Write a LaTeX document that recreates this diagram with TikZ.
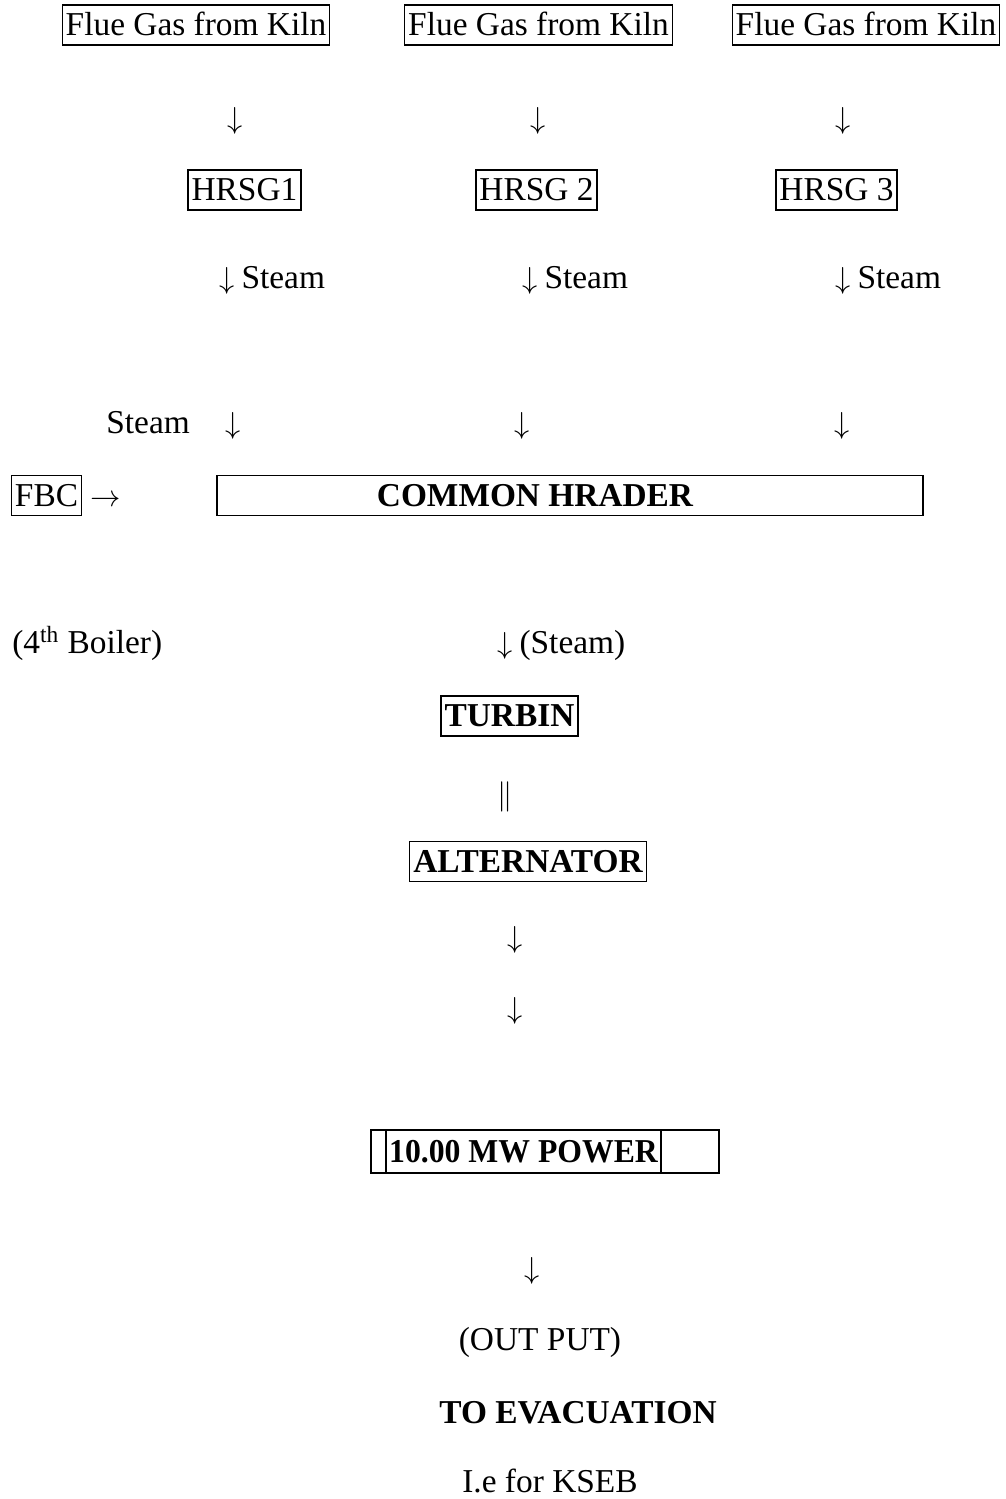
\documentclass[tikz,border=0pt]{standalone}
\usepackage{fontspec}
\setmainfont{Liberation Serif}
\usepackage{tikz}

\newcommand{\dn}{$\downarrow$}

\begin{document}
\begin{tikzpicture}[x=0.02cm,y=-0.02cm,
    every node/.style={font=\fontsize{19}{23}\selectfont,inner sep=0pt,text height=14pt,text depth=2pt},
    bx/.style={draw,line width=0.75pt,inner xsep=2pt,minimum height=0.8cm},
    bbx/.style={bx,font=\fontsize{19}{23}\selectfont\bfseries}]
    \useasboundingbox (0,0) rectangle (1005,1499);
    \node [bx] (kiln1) at (196,25) {Flue Gas from Kiln};
    \node [bx] (kiln2) at (538.5,25) {Flue Gas from Kiln};
    \node [bx] (kiln3) at (866,25) {Flue Gas from Kiln};
    \node (dn1) at (235,118) {\dn};
    \node (dn2) at (538,118) {\dn};
    \node (dn3) at (843,118) {\dn};
    \node [bx] (hrsg1) at (244.5,190) {HRSG1};
    \node [bx] (hrsg2) at (536.5,190) {HRSG 2};
    \node [bx] (hrsg3) at (836.5,190) {HRSG 3};
    \node [anchor=west] (st1) at (219,278) {\dn\hspace{4pt}Steam};
    \node [anchor=west] (st2) at (522,278) {\dn\hspace{4pt}Steam};
    \node [anchor=west] (st3) at (835,278) {\dn\hspace{4pt}Steam};
    \node [anchor=west] (stfbc) at (106,423) {Steam};
    \node (dn4) at (233,423) {\dn};
    \node (dn5) at (522,423) {\dn};
    \node (dn6) at (842,423) {\dn};
    \node [bx] (fbc) at (46.5,495.5) {FBC};
    \node (rt) at (106,495.5) {$\rightarrow$};
    \node [draw,line width=0.75pt,minimum width=706*0.02cm,minimum height=0.8cm] (hdrbox) at (570,495.5) {};
    \node [font=\fontsize{19}{23}\selectfont\bfseries] (hdr) at (535,495.5) {COMMON HRADER};
    \node [anchor=west] (boiler) at (12,643) {(4\textsuperscript{th} Boiler)};
    \node [anchor=west] (stm) at (497,643) {\dn\hspace{4pt}(Steam)};
    \node [bbx] (turbin) at (509.5,716) {TURBIN};
    \node [font=\fontsize{16}{20}\selectfont] (shaft) at (505,794) {$\Vert$};
    \node [bbx] (alt) at (528,861.5) {ALTERNATOR};
    \node (dn7) at (515,937) {\dn};
    \node (dn8) at (515,1008) {\dn};
    \node [draw,line width=0.75pt,minimum width=348*0.02cm,minimum height=43*0.02cm] (pwrbox) at (545,1151.5) {};
    \node [bbx,inner xsep=0pt,minimum width=275*0.02cm,minimum height=43*0.02cm] (pwr) at (523.5,1151.5) {\scalebox{0.95}[1]{10.00 MW POWER}};
    \node (dn9) at (532,1268) {\dn};
    \node (out) at (540,1340) {(OUT PUT)};
    \node [font=\fontsize{19}{23}\selectfont\bfseries] (evac) at (578,1413) {TO EVACUATION};
    \node [anchor=west] (kseb) at (462,1482) {I.e for KSEB};
\end{tikzpicture}
\end{document}
